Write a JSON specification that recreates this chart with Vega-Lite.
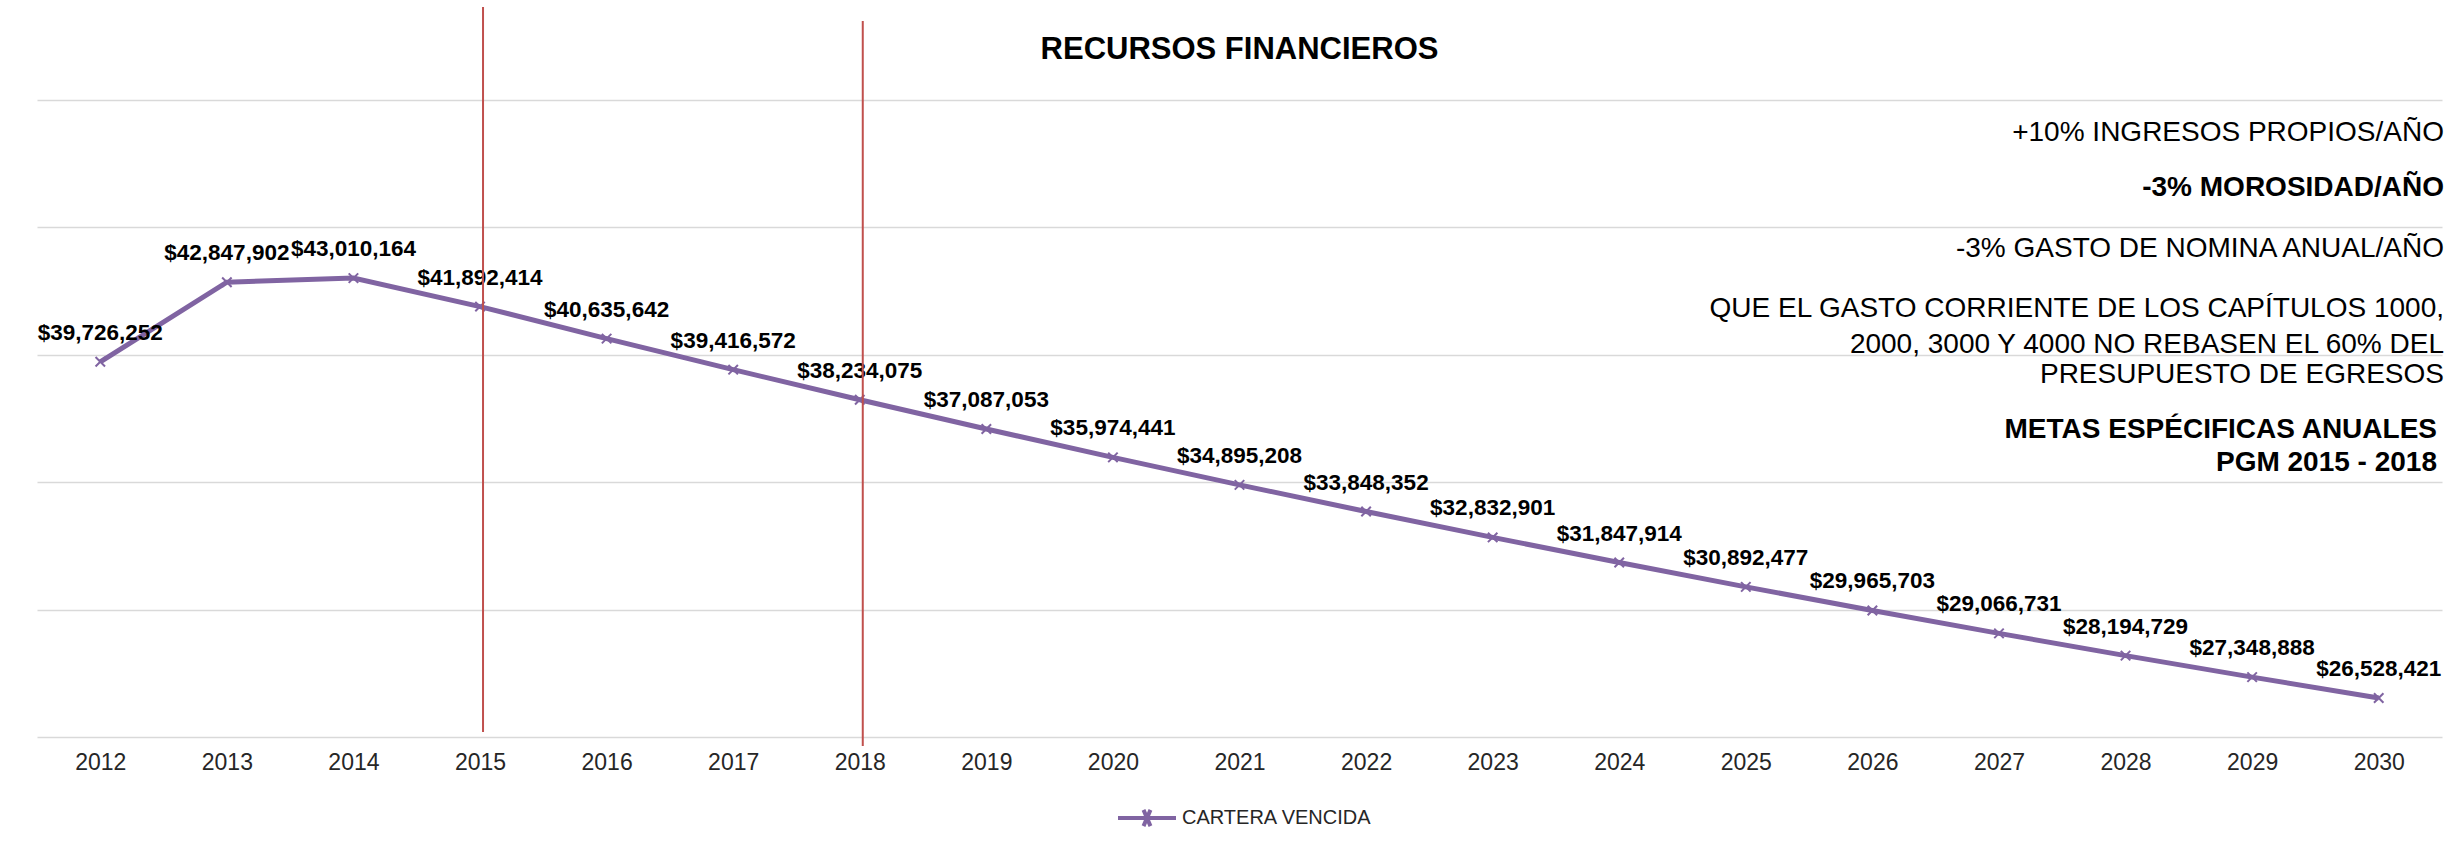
{
  "$schema": "https://vega.github.io/schema/vega-lite/v6.json",
  "width": 2405,
  "height": 637,
  "autosize": {"type": "none"},
  "padding": {"left": 37, "top": 100, "right": 19, "bottom": 111},
  "background": "#ffffff",
  "config": {
    "view": {"stroke": null},
    "font": "Liberation Sans"
  },
  "title": {
    "text": "RECURSOS FINANCIEROS",
    "anchor": "middle",
    "fontSize": 31,
    "fontWeight": "bold",
    "font": "Liberation Sans",
    "color": "#000000",
    "baseline": "alphabetic",
    "offset": -84
  },
  "datasets": {
    "serie": [
      {"anio": "2012", "monto": 39726252, "serie": "CARTERA VENCIDA"},
      {"anio": "2013", "monto": 42847902, "serie": "CARTERA VENCIDA"},
      {"anio": "2014", "monto": 43010164, "serie": "CARTERA VENCIDA"},
      {"anio": "2015", "monto": 41892414, "serie": "CARTERA VENCIDA"},
      {"anio": "2016", "monto": 40635642, "serie": "CARTERA VENCIDA"},
      {"anio": "2017", "monto": 39416572, "serie": "CARTERA VENCIDA"},
      {"anio": "2018", "monto": 38234075, "serie": "CARTERA VENCIDA"},
      {"anio": "2019", "monto": 37087053, "serie": "CARTERA VENCIDA"},
      {"anio": "2020", "monto": 35974441, "serie": "CARTERA VENCIDA"},
      {"anio": "2021", "monto": 34895208, "serie": "CARTERA VENCIDA"},
      {"anio": "2022", "monto": 33848352, "serie": "CARTERA VENCIDA"},
      {"anio": "2023", "monto": 32832901, "serie": "CARTERA VENCIDA"},
      {"anio": "2024", "monto": 31847914, "serie": "CARTERA VENCIDA"},
      {"anio": "2025", "monto": 30892477, "serie": "CARTERA VENCIDA"},
      {"anio": "2026", "monto": 29965703, "serie": "CARTERA VENCIDA"},
      {"anio": "2027", "monto": 29066731, "serie": "CARTERA VENCIDA"},
      {"anio": "2028", "monto": 28194729, "serie": "CARTERA VENCIDA"},
      {"anio": "2029", "monto": 27348888, "serie": "CARTERA VENCIDA"},
      {"anio": "2030", "monto": 26528421, "serie": "CARTERA VENCIDA"}
    ],
    "periodo": [
      {"anio": "2015", "desde": 25196000, "hasta": 53650000},
      {"anio": "2018", "desde": 24650000, "hasta": 53100000}
    ],
    "notas": [
      {"texto": "+10% INGRESOS PROPIOS/AÑO", "nivel": 48700000},
      {"texto": "-3% GASTO DE NOMINA ANUAL/AÑO", "nivel": 44150000},
      {"texto": "QUE EL GASTO CORRIENTE DE LOS CAPÍTULOS 1000,", "nivel": 41800000},
      {"texto": "2000, 3000 Y 4000 NO REBASEN EL 60% DEL", "nivel": 40380000},
      {"texto": "PRESUPUESTO DE EGRESOS", "nivel": 39210000}
    ],
    "notasBold": [
      {"texto": "-3% MOROSIDAD/AÑO", "nivel": 46550000}
    ],
    "metas": [
      {"texto": "METAS ESPÉCIFICAS ANUALES", "nivel": 37050000},
      {"texto": "PGM 2015 - 2018", "nivel": 35750000}
    ]
  },
  "layer": [
    {
      "data": {"name": "serie"},
      "mark": {
        "type": "line",
        "strokeWidth": 5,
        "point": {
          "shape": "M-1,-1L1,1M1,-1L-1,1",
          "filled": false,
          "size": 90,
          "strokeWidth": 2,
          "color": "#7a5f9e"
        }
      },
      "encoding": {
        "x": {
          "field": "anio",
          "type": "ordinal",
          "scale": {"type": "point", "padding": 0.5},
          "axis": {
            "title": null,
            "labelAngle": 0,
            "labelFontSize": 23,
            "labelFont": "Liberation Sans",
            "labelColor": "#262626",
            "labelPadding": 14,
            "ticks": false,
            "domain": false,
            "grid": false
          }
        },
        "y": {
          "field": "monto",
          "type": "quantitative",
          "scale": {"domain": [25000000, 50000000], "nice": false, "zero": false},
          "axis": {
            "title": null,
            "labels": false,
            "ticks": false,
            "domain": false,
            "grid": true,
            "gridColor": "#d9d9d9",
            "gridWidth": 1.5,
            "values": [25000000, 30000000, 35000000, 40000000, 45000000, 50000000]
          }
        },
        "color": {
          "field": "serie",
          "type": "nominal",
          "scale": {"range": ["#8064a2"]},
          "legend": {
            "orient": "none",
            "legendX": 1079,
            "legendY": 687,
            "direction": "horizontal",
            "title": null,
            "padding": 0,
            "symbolType": "M-1,0L1,0M-0.12,-0.28L0.12,0.28M0.12,-0.28L-0.12,0.28",
            "symbolSize": 3364,
            "symbolStrokeWidth": 4,
            "labelFontSize": 20,
            "labelLimit": 400,
            "labelFont": "Liberation Sans",
            "labelColor": "#262626",
            "labelOffset": 4
          }
        }
      }
    },
    {
      "data": {"name": "serie"},
      "mark": {
        "type": "text",
        "dy": -29,
        "fontSize": 22.5,
        "fontWeight": "bold",
        "font": "Liberation Sans",
        "color": "#000000",
        "align": "center",
        "baseline": "middle"
      },
      "encoding": {
        "x": {"field": "anio", "type": "ordinal"},
        "y": {"field": "monto", "type": "quantitative"},
        "text": {"field": "monto", "type": "quantitative", "format": "$,.0f"}
      }
    },
    {
      "data": {"name": "periodo"},
      "mark": {"type": "rule", "color": "#c0504d", "strokeWidth": 2, "clip": false, "xOffset": 3},
      "encoding": {
        "x": {"field": "anio", "type": "ordinal"},
        "y": {"field": "desde", "type": "quantitative"},
        "y2": {"field": "hasta"}
      }
    },
    {
      "data": {"name": "notas"},
      "mark": {
        "type": "text",
        "align": "right",
        "baseline": "middle",
        "fontSize": 28,
        "font": "Liberation Sans",
        "color": "#000000",
        "dx": 2
      },
      "encoding": {
        "x": {"value": "width"},
        "y": {"field": "nivel", "type": "quantitative"},
        "text": {"field": "texto", "type": "nominal"}
      }
    },
    {
      "data": {"name": "notasBold"},
      "mark": {
        "type": "text",
        "align": "right",
        "baseline": "middle",
        "fontSize": 28,
        "fontWeight": "bold",
        "font": "Liberation Sans",
        "color": "#000000",
        "dx": 2
      },
      "encoding": {
        "x": {"value": "width"},
        "y": {"field": "nivel", "type": "quantitative"},
        "text": {"field": "texto", "type": "nominal"}
      }
    },
    {
      "data": {"name": "metas"},
      "mark": {
        "type": "text",
        "align": "right",
        "baseline": "middle",
        "fontSize": 28,
        "fontWeight": "bold",
        "font": "Liberation Sans",
        "color": "#000000",
        "dx": -5
      },
      "encoding": {
        "x": {"value": "width"},
        "y": {"field": "nivel", "type": "quantitative"},
        "text": {"field": "texto", "type": "nominal"}
      }
    }
  ]
}
